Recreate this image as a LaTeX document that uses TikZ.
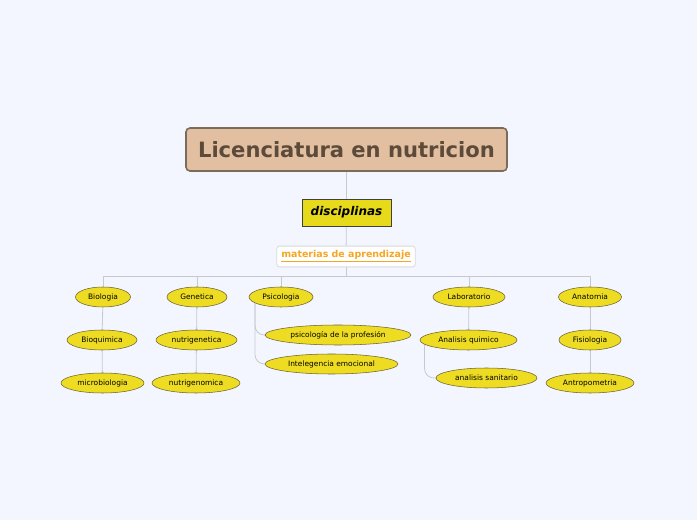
\documentclass[tikz,border=0pt]{standalone}
\usepackage{fontspec}
\setmainfont{DejaVu Sans}
\usepackage{tikz}
\usetikzlibrary{shapes.geometric,calc}
\pgfdeclarelayer{background}
\pgfsetlayers{background,main}
\definecolor{bgblue}{HTML}{F3F6FE}
\definecolor{titlefill}{HTML}{E2BFA0}
\definecolor{titledraw}{HTML}{7B6B5B}
\definecolor{titletext}{HTML}{5C4B3A}
\definecolor{discfill}{HTML}{E6DA1A}
\definecolor{topicfill}{HTML}{EEDC22}
\definecolor{topicdraw}{HTML}{6B6232}
\definecolor{linkgray}{HTML}{C5C9D2}
\definecolor{matorange}{HTML}{F5A623}

\begin{document}
\begin{tikzpicture}[
  x=0.75pt, y=-0.75pt,
  central/.style={draw=titledraw, line width=1.2pt, rounded corners=3pt, fill=titlefill,
    minimum width=240.75pt, minimum height=32.25pt, text=titletext,
    font=\fontsize{15.8}{18}\selectfont\bfseries},
  disc/.style={draw=black!75, line width=0.7pt, fill=discfill, minimum width=66.75pt,
    minimum height=20.25pt, font=\fontsize{9}{11}\selectfont\bfseries\itshape},
  label/.style={draw=black!15, line width=0.6pt, rounded corners=2pt, fill=white,
    minimum width=103.5pt, minimum height=12.75pt, text=matorange,
    font=\fontsize{7.1}{9}\selectfont\bfseries},
  topic/.style={draw=topicdraw, line width=0.4pt, ellipse, fill=topicfill, inner sep=0pt,
    minimum height=15pt, font=\fontsize{5.6}{7}\selectfont},
  link/.style={draw=linkgray, line width=0.6pt},
  curvelink/.style={link, rounded corners=7pt}
]
\useasboundingbox (0,0) rectangle (697,520);

% centro del mapa
\node[central] (lic) at (346.5,149.5) {Licenciatura en nutricion};
\node[disc] (disc) at (346.5,212.5) {disciplinas};
\node[label] (mat) at (346,256.5) {\underline{materias de aprendizaje}};
\coordinate (bus) at (346,276);

% primer nivel
\node[topic, minimum width=41.25pt] (bio) at (103,297) {Biologia};
\node[topic, minimum width=45pt] (gen) at (197,297) {Genetica};
\node[topic, minimum width=48pt] (psi) at (281,297) {Psicologia};
\node[topic, minimum width=54pt] (lab) at (469,297) {Laboratorio};
\node[topic, minimum width=47.25pt] (ana) at (590,297) {Anatomia};

% segundo nivel
\node[topic, minimum width=52.5pt] (bioq) at (102,340) {Bioquimica};
\node[topic, minimum width=60.75pt] (ngen) at (196.5,340) {nutrigenetica};
\node[topic, minimum width=109.5pt] (pprof) at (338,335) {psicología de la profesión};
\node[topic, minimum width=99.75pt] (iemo) at (331.5,364) {Intelegencia emocional};
\node[topic, minimum width=72.75pt] (aq) at (468.5,340) {Analisis quimico};
\node[topic, minimum width=46.5pt] (fis) at (590,340) {Fisiologia};

% tercer nivel
\node[topic, minimum width=62.25pt] (micro) at (102.5,383) {microbiologia};
\node[topic, minimum width=66pt] (ngenom) at (196,383) {nutrigenomica};
\node[topic, minimum width=75.75pt] (asan) at (486.5,378) {analisis sanitario};
\node[topic, minimum width=66pt] (antro) at (590,383) {Antropometria};

% fondo y conectores
\begin{pgfonlayer}{background}
\fill[bgblue] (0,0) rectangle (697,520);
\draw[link] (lic) -- (disc);
\draw[link] (disc) -- (mat);
\draw[link] (mat) -- (bus);
\foreach \t in {bio,gen,psi,lab,ana}
  \draw[link] (bus) -| (\t);
\draw[link] (bio) -- (bioq);
\draw[link] (bioq) -- (micro);
\draw[link] (gen) -- (ngen);
\draw[link] (ngen) -- (ngenom);
\draw[link] (lab) -- (aq);
\draw[link] (ana) -- (fis);
\draw[link] (fis) -- (antro);
\draw[curvelink] (psi.center) ++(-26,0) |- (pprof.center);
\draw[curvelink] (psi.center) ++(-26,0) |- (iemo.center);
\draw[curvelink] (aq.center) ++(-44,0) |- (asan.center);
\end{pgfonlayer}
\end{tikzpicture}
\end{document}
